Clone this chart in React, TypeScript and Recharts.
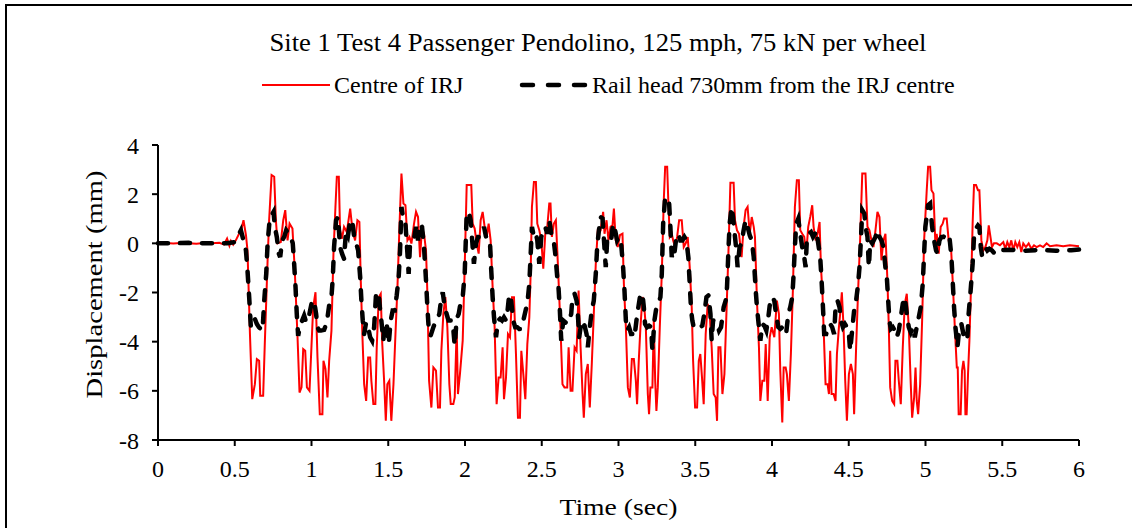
import { LineChart, Line, XAxis, YAxis, Label } from 'recharts';

const chartTitle = 'Site 1 Test 4 Passenger Pendolino, 125 mph, 75 kN per wheel';
const seriesNames = ['Centre of IRJ', 'Rail head 730mm from the IRJ centre'];
const timeTicks = [0, 0.5, 1, 1.5, 2, 2.5, 3, 3.5, 4, 4.5, 5, 5.5, 6];
const dispTicks = [-8, -6, -4, -2, 0, 2, 4];

// [time (sec), displacement (mm)]
const irjCentre: [number, number][] = [
  [0, 0], [0.05, 0.01], [0.1, -0.01], [0.15, 0.01], [0.2, 0], [0.25, -0.02], [0.3, 0.01], [0.35, 0],
  [0.4, 0.02], [0.43, -0.05], [0.45, 0.19], [0.465, -0.1], [0.475, 0.1], [0.49, -0.05], [0.507, 0.12],
  [0.544, 0.6], [0.557, 0.94], [0.573, 0.33], [0.583, -0.28], [0.599, -3.69], [0.614, -6.34], [0.631, -5.73],
  [0.644, -4.71], [0.659, -4.78], [0.666, -6.2], [0.685, -6.2], [0.696, -4.03], [0.714, -0.69], [0.724, 0.94],
  [0.74, 2.78], [0.757, 2.71], [0.768, 0.94], [0.779, 0], [0.8, 0.05], [0.816, 0.94], [0.829, 1.35],
  [0.844, 0.12], [0.857, 0.8], [0.876, 0.6], [0.891, -1.1], [0.909, -3.82], [0.922, -6.07], [0.935, -5.86],
  [0.946, -4.3], [0.959, -4.37], [0.97, -5.86], [0.987, -6.0], [1.0, -4.16], [1.011, -2.6], [1.026, -1.99],
  [1.039, -4.64], [1.054, -6.95], [1.071, -6.95], [1.078, -4.78], [1.091, -5.11], [1.104, -6.27], [1.115, -4.78],
  [1.13, -3.55], [1.143, -0.42], [1.156, 1.48], [1.165, 2.71], [1.178, 2.71], [1.186, 0.53], [1.199, 0.19],
  [1.212, 0.67], [1.23, 0.46], [1.252, 1.41], [1.267, 0.53], [1.284, 0.12], [1.299, 0.94], [1.312, 0.87],
  [1.321, -1.51], [1.332, -3.82], [1.343, -5.73], [1.356, -6.41], [1.369, -4.64], [1.382, -4.64], [1.39, -5.59],
  [1.403, -6.54], [1.416, -6.54], [1.425, -4.23], [1.438, -2.19], [1.451, -2.05], [1.46, -3.96], [1.473, -5.59],
  [1.484, -7.22], [1.494, -5.73], [1.507, -5.59], [1.52, -7.22], [1.534, -5.73], [1.547, -3.69], [1.56, -1.78],
  [1.573, 0.67], [1.586, 2.84], [1.599, 1.62], [1.612, 1.55], [1.625, 0.12], [1.638, 0.26], [1.651, -0.01],
  [1.668, 0.8], [1.681, 1.28], [1.694, 1.07], [1.707, -0.56], [1.72, 0.6], [1.733, 0.39], [1.746, -0.29],
  [1.755, -2.05], [1.766, -5.59], [1.781, -6.68], [1.794, -5.05], [1.811, -5.18], [1.824, -6.68], [1.837, -6.68],
  [1.846, -4.37], [1.859, -2.87], [1.872, -2.19], [1.885, -3.41], [1.898, -5.73], [1.907, -6.54], [1.924, -6.54],
  [1.933, -6.27], [1.946, -3.41], [1.954, -6.13], [1.967, -5.32], [1.985, -3.96], [1.998, -0.97], [2.011, 2.37],
  [2.041, 2.37], [2.05, 0.8], [2.063, 0.6], [2.076, 0], [2.089, -0.42], [2.102, 0.94], [2.115, 1.28],
  [2.128, 0.67], [2.141, 0.26], [2.154, 0.8], [2.167, 0.12], [2.18, -1.78], [2.193, -3.41], [2.206, -6.54],
  [2.219, -5.46], [2.232, -5.46], [2.245, -4.23], [2.254, -6.34], [2.267, -5.46], [2.28, -3.69], [2.293, -3.82],
  [2.306, -2.19], [2.319, -2.19], [2.332, -4.5], [2.345, -7.09], [2.358, -7.09], [2.367, -4.37], [2.38, -5.32],
  [2.393, -6.34], [2.406, -4.1], [2.419, -3.01], [2.427, -1.37], [2.436, 1.48], [2.449, 2.5], [2.462, 2.5],
  [2.471, 0.8], [2.484, 0.53], [2.497, 0.12], [2.51, -1.03], [2.523, 0.39], [2.536, 0.67], [2.549, 1.62],
  [2.557, 1.62], [2.566, 0.26], [2.579, 0.8], [2.592, 0.94], [2.605, -0.83], [2.614, -2.19], [2.622, -3.41],
  [2.635, -5.73], [2.648, -5.86], [2.666, -5.86], [2.675, -4.23], [2.688, -6.0], [2.7, -6.0], [2.714, -4.23],
  [2.727, -4.37], [2.74, -1.92], [2.753, -4.23], [2.766, -6.13], [2.774, -7.09], [2.787, -5.32], [2.8, -4.91],
  [2.813, -6.68], [2.826, -4.91], [2.839, -2.87], [2.852, -0.83], [2.865, 0.53], [2.883, 0.53], [2.9, 1.28],
  [2.909, 0.39], [2.922, 0.94], [2.935, 0.12], [2.948, 0.67], [2.961, 0.73], [2.97, 1.41], [2.982, 0.12],
  [2.995, -0.15], [3.009, 0.33], [3.026, 0.39], [3.035, -1.65], [3.048, -3.41], [3.061, -5.86], [3.074, -6.27],
  [3.087, -4.71], [3.1, -4.71], [3.113, -5.59], [3.121, -6.54], [3.132, -4.78], [3.143, -3.41], [3.156, -2.19],
  [3.165, -2.33], [3.178, -3.41], [3.191, -6.13], [3.199, -6.95], [3.208, -5.86], [3.221, -5.86], [3.23, -3.14],
  [3.239, -5.59], [3.247, -6.82], [3.256, -5.86], [3.269, -3.41], [3.282, -1.24], [3.295, 1.75], [3.304, 3.12],
  [3.317, 3.12], [3.325, 1.62], [3.334, 0.26], [3.347, 0.39], [3.356, 0.12], [3.369, -0.15], [3.382, 0.26],
  [3.395, 0.94], [3.412, 0.94], [3.425, -0.15], [3.438, 0], [3.451, 0.26], [3.464, -0.97], [3.477, -2.6],
  [3.486, -4.78], [3.499, -6.68], [3.512, -6.68], [3.523, -4.78], [3.533, -4.5], [3.544, -5.46], [3.555, -6.54],
  [3.568, -3.69], [3.581, -2.46], [3.594, -2.87], [3.607, -4.23], [3.62, -6.13], [3.633, -6.27], [3.642, -7.22],
  [3.651, -4.23], [3.664, -4.23], [3.677, -6.13], [3.69, -5.32], [3.703, -2.87], [3.716, -0.42], [3.729, 2.46],
  [3.75, 2.46], [3.759, 0.94], [3.772, 0.53], [3.785, 0.39], [3.802, -0.56], [3.815, 0.67], [3.828, 1.35],
  [3.841, 1.48], [3.855, 0.39], [3.868, 1.07], [3.881, 0.67], [3.889, 0.26], [3.902, -2.33], [3.915, -4.23],
  [3.924, -6.41], [3.937, -5.59], [3.95, -5.59], [3.959, -4.1], [3.972, -6.41], [3.985, -3.82], [3.998, -3.41],
  [4.015, -3.82], [4.032, -2.33], [4.045, -2.87], [4.054, -5.18], [4.067, -7.29], [4.076, -5.05], [4.089, -5.05],
  [4.097, -5.32], [4.11, -6.41], [4.123, -4.5], [4.136, -1.92], [4.149, 1.48], [4.162, 2.57], [4.175, 2.57],
  [4.184, 0.53], [4.197, 0.39], [4.21, 0.26], [4.223, -0.42], [4.236, 0.67], [4.249, 1.07], [4.262, 1.55],
  [4.271, 0.67], [4.284, 0.12], [4.297, 0.39], [4.31, 0.87], [4.319, -0.97], [4.329, -2.05], [4.336, -3.41],
  [4.349, -5.73], [4.362, -5.73], [4.371, -6.13], [4.379, -4.37], [4.388, -6.13], [4.401, -6.13], [4.414, -6.41],
  [4.423, -4.5], [4.436, -3.41], [4.444, -2.87], [4.455, -1.99], [4.466, -3.41], [4.477, -5.59], [4.488, -7.22],
  [4.501, -5.32], [4.514, -4.91], [4.527, -5.32], [4.535, -6.95], [4.548, -4.23], [4.561, -1.92], [4.574, 0.12],
  [4.588, 2.84], [4.609, 2.84], [4.622, 0.67], [4.635, 0.53], [4.648, 0.12], [4.661, -0.15], [4.674, 0.53],
  [4.687, 1.28], [4.7, 1.07], [4.713, -0.69], [4.726, 0.12], [4.739, 0.39], [4.752, -1.51], [4.761, -3.41],
  [4.77, -5.86], [4.783, -6.41], [4.796, -6.54], [4.804, -4.78], [4.817, -4.78], [4.826, -5.59], [4.839, -6.54],
  [4.852, -4.23], [4.865, -2.46], [4.878, -2.05], [4.891, -3.41], [4.904, -5.73], [4.913, -7.09], [4.926, -6.27],
  [4.935, -5.05], [4.943, -6.41], [4.952, -6.95], [4.965, -5.73], [4.978, -3.14], [4.991, 0.12], [5.008, 2.16],
  [5.017, 3.12], [5.03, 3.12], [5.039, 2.16], [5.052, 2.03], [5.065, -0.15], [5.073, 0.39], [5.086, -0.42],
  [5.099, 0.67], [5.112, 0.8], [5.121, 1.01], [5.138, 1.01], [5.151, 0.12], [5.164, 0.12], [5.177, -1.51],
  [5.191, -3.41], [5.204, -5.05], [5.21, -5.05], [5.216, -6.95], [5.229, -6.95], [5.238, -5.18], [5.247, -4.78],
  [5.255, -5.18], [5.26, -6.95], [5.268, -6.95], [5.277, -5.32], [5.286, -3.96], [5.299, -1.24], [5.307, 0.8],
  [5.316, 2.37], [5.329, 2.37], [5.342, 2.16], [5.351, 2.16], [5.364, 0.12], [5.377, -0.29], [5.39, -0.15],
  [5.403, 0.12], [5.412, 0.73], [5.42, 0.39], [5.433, -0.15], [5.446, 0], [5.464, 0], [5.485, -0.08],
  [5.507, 0.05], [5.52, -0.22], [5.533, 0.05], [5.546, -0.15], [5.559, 0.12], [5.572, -0.29], [5.585, 0.05],
  [5.598, -0.15], [5.611, 0.05], [5.624, -0.35], [5.637, 0], [5.654, -0.15], [5.672, 0], [5.689, -0.22],
  [5.707, -0.08], [5.724, -0.15], [5.746, -0.08], [5.767, -0.15], [5.789, 0], [5.811, -0.12], [5.854, -0.08],
  [5.897, -0.12], [5.941, -0.08], [6.0, -0.12],
];

const railHead730: [number, number][] = [
  [0, 0], [0.1, 0], [0.2, 0.02], [0.3, 0], [0.4, 0.01], [0.45, 0], [0.497, 0.05], [0.518, 0.26], [0.54, 0.53],
  [0.557, 0.12], [0.573, -0.29], [0.583, -1.1], [0.594, -2.19], [0.605, -3.41], [0.616, -3.14], [0.631, -3.07],
  [0.644, -3.28], [0.657, -3.41], [0.681, -3.55], [0.692, -2.33], [0.705, -1.24], [0.714, 0], [0.727, 0.94],
  [0.74, 1.14], [0.753, 1.28], [0.761, 0.67], [0.774, 0.26], [0.787, -0.42], [0.796, -0.56], [0.809, 0.12],
  [0.822, 0.26], [0.835, 0.53], [0.852, 0.39], [0.865, 0.26], [0.878, 0], [0.887, -0.83], [0.896, -1.78],
  [0.904, -2.87], [0.913, -3.76], [0.926, -3.35], [0.939, -3.14], [0.952, -2.94], [0.965, -3.21], [0.978, -3.14],
  [0.991, -2.73], [1.004, -2.33], [1.017, -2.33], [1.03, -2.87], [1.039, -3.41], [1.05, -3.55], [1.061, -3.55],
  [1.082, -3.52], [1.1, -3.21], [1.115, -2.53], [1.13, -2.19], [1.139, -1.37], [1.147, -0.15], [1.16, 0.94],
  [1.173, 1.07], [1.186, -0.15], [1.199, -0.42], [1.212, -0.63], [1.225, 0.53], [1.238, 0.33], [1.252, 0.94],
  [1.265, 0.94], [1.278, 0.26], [1.291, 0], [1.304, -0.29], [1.317, -1.37], [1.325, -2.33], [1.334, -3.14],
  [1.343, -3.69], [1.356, -3.21], [1.369, -3.41], [1.382, -3.82], [1.395, -3.96], [1.408, -3.41], [1.421, -1.99],
  [1.438, -2.05], [1.447, -2.73], [1.455, -3.14], [1.468, -3.96], [1.477, -3.21], [1.49, -3.28], [1.503, -4.1],
  [1.516, -3.14], [1.529, -2.73], [1.542, -2.73], [1.555, -2.12], [1.568, -1.37], [1.577, -0.29], [1.586, 1.48],
  [1.599, 0.94], [1.612, 0.8], [1.625, -0.42], [1.633, -1.24], [1.642, 0], [1.655, 0.12], [1.668, 0.19],
  [1.681, 0.67], [1.694, 0.12], [1.707, 0.8], [1.72, 0.67], [1.733, -0.15], [1.746, -1.51], [1.755, -2.6],
  [1.763, -3.41], [1.776, -3.76], [1.794, -3.41], [1.807, -3.21], [1.82, -3.07], [1.833, -2.87], [1.846, -2.19],
  [1.855, -1.99], [1.868, -2.6], [1.88, -2.87], [1.893, -3.14], [1.907, -3.14], [1.92, -3.21], [1.933, -4.16],
  [1.946, -3.07], [1.959, -2.87], [1.972, -2.39], [1.985, -2.19], [1.998, -1.24], [2.011, 1.21], [2.024, 1.28],
  [2.037, 0.94], [2.05, -0.15], [2.058, -0.83], [2.072, 0], [2.085, 0.26], [2.098, 0.26], [2.111, 0.39],
  [2.124, 0.67], [2.137, 0.26], [2.15, 0.26], [2.163, 0], [2.171, -1.1], [2.18, -2.19], [2.189, -3.01],
  [2.202, -3.82], [2.215, -3.14], [2.228, -3.07], [2.241, -3.14], [2.254, -3.01], [2.267, -3.14], [2.275, -2.87],
  [2.288, -2.08], [2.301, -2.33], [2.314, -3.14], [2.327, -3.41], [2.34, -3.41], [2.353, -3.48], [2.366, -3.48],
  [2.38, -3.14], [2.397, -2.67], [2.406, -2.46], [2.419, -1.65], [2.427, -0.56], [2.436, 0.67], [2.449, 0.26],
  [2.462, 0.39], [2.471, 0.12], [2.484, -0.83], [2.497, 0.26], [2.51, 0.53], [2.523, 0.67], [2.536, 0.39],
  [2.549, 0.94], [2.562, 0.39], [2.575, 0.26], [2.588, -0.42], [2.601, -1.37], [2.609, -1.78], [2.618, -2.73],
  [2.627, -3.96], [2.64, -3.14], [2.653, -3.21], [2.666, -3.28], [2.679, -3.14], [2.692, -2.87], [2.7, -2.19],
  [2.714, -2.05], [2.727, -2.33], [2.735, -2.87], [2.744, -3.82], [2.753, -3.41], [2.766, -3.14], [2.779, -3.35],
  [2.792, -3.69], [2.8, -4.23], [2.813, -3.41], [2.826, -2.73], [2.839, -2.33], [2.852, -1.24], [2.861, -0.15],
  [2.87, 0.39], [2.883, 1.07], [2.896, 1.01], [2.904, 0.26], [2.917, -0.97], [2.926, 0.12], [2.939, 0.26],
  [2.952, 0.12], [2.965, 0.8], [2.978, 0.53], [2.991, 0.12], [3.004, 0.26], [3.017, 0], [3.03, -0.97],
  [3.039, -1.92], [3.048, -3.14], [3.056, -3.55], [3.069, -3.41], [3.082, -3.69], [3.095, -3.69], [3.104, -3.82],
  [3.117, -3.14], [3.126, -2.73], [3.143, -2.05], [3.156, -2.05], [3.165, -2.6], [3.173, -3.28], [3.186, -3.41],
  [3.199, -3.35], [3.212, -3.41], [3.221, -4.37], [3.234, -3.14], [3.247, -2.6], [3.26, -2.46], [3.273, -2.19],
  [3.282, -1.24], [3.291, 0.8], [3.304, 1.89], [3.317, 1.75], [3.33, 1.62], [3.338, 0.67], [3.347, -0.56],
  [3.356, -0.29], [3.364, -0.42], [3.377, 0.26], [3.39, 0.39], [3.403, 0.12], [3.416, 0.12], [3.429, 0.26],
  [3.442, 0.12], [3.455, -0.56], [3.464, -1.65], [3.473, -2.73], [3.481, -3.14], [3.49, -3.41], [3.503, -3.48],
  [3.52, -3.48], [3.533, -3.41], [3.546, -3.35], [3.559, -2.87], [3.573, -2.19], [3.586, -2.12], [3.599, -2.87],
  [3.607, -3.96], [3.616, -3.14], [3.629, -3.14], [3.642, -3.28], [3.655, -3.55], [3.668, -3.41], [3.685, -2.6],
  [3.698, -2.33], [3.707, -1.78], [3.716, -0.29], [3.724, 0.8], [3.737, 1.48], [3.746, 1.07], [3.759, 0.26],
  [3.768, -0.29], [3.776, -0.97], [3.789, -0.15], [3.802, 0], [3.815, 0.53], [3.828, 0.94], [3.841, 0.67],
  [3.855, 0.33], [3.868, 0.12], [3.881, -0.56], [3.894, -1.92], [3.902, -2.6], [3.915, -3.41], [3.924, -3.96],
  [3.937, -3.28], [3.95, -3.35], [3.963, -3.55], [3.976, -3.01], [3.989, -2.33], [4.002, -2.19], [4.015, -2.33],
  [4.028, -2.94], [4.041, -3.41], [4.054, -3.48], [4.067, -3.41], [4.08, -3.69], [4.093, -3.62], [4.106, -2.87],
  [4.119, -2.6], [4.132, -2.19], [4.141, -1.24], [4.149, -0.15], [4.158, 0.8], [4.171, 1.0], [4.184, 0.39],
  [4.197, -0.15], [4.21, -0.56], [4.219, -0.97], [4.227, 0.12], [4.24, 0.39], [4.254, 0.46], [4.267, 0.26],
  [4.28, 0.39], [4.288, 0.53], [4.301, 0], [4.314, -0.56], [4.323, -1.51], [4.332, -2.6], [4.34, -3.69],
  [4.353, -3.69], [4.366, -3.41], [4.379, -3.28], [4.392, -3.41], [4.405, -3.69], [4.414, -2.6], [4.427, -2.33],
  [4.44, -2.6], [4.449, -3.14], [4.462, -3.41], [4.475, -3.28], [4.488, -3.41], [4.501, -3.69], [4.509, -4.37],
  [4.522, -3.55], [4.535, -2.73], [4.548, -2.33], [4.561, -1.65], [4.57, -0.97], [4.579, 0.12], [4.588, 1.35],
  [4.601, 1.21], [4.614, 0.53], [4.622, 0.26], [4.631, -0.97], [4.64, 0.12], [4.653, 0], [4.674, 0.26],
  [4.687, 0.53], [4.7, 0.26], [4.713, 0.12], [4.726, -0.15], [4.739, -0.97], [4.748, -1.37], [4.757, -2.33],
  [4.765, -3.14], [4.774, -3.48], [4.787, -3.41], [4.8, -3.55], [4.813, -3.82], [4.826, -3.55], [4.839, -3.01],
  [4.852, -2.46], [4.865, -2.19], [4.878, -2.87], [4.891, -3.41], [4.904, -3.62], [4.917, -3.41], [4.93, -3.82],
  [4.943, -3.41], [4.956, -3.01], [4.969, -2.6], [4.982, -1.65], [4.991, -0.42], [4.999, 0.67], [5.017, 1.55],
  [5.03, 1.62], [5.043, 0.67], [5.056, 0.12], [5.069, -0.29], [5.078, -0.42], [5.091, 0.12], [5.104, 0.26],
  [5.117, 0.26], [5.13, 0.39], [5.143, 0.39], [5.156, 0.26], [5.169, -0.56], [5.177, -1.51], [5.186, -2.6],
  [5.195, -3.41], [5.204, -3.96], [5.208, -4.23], [5.221, -3.41], [5.234, -3.28], [5.247, -3.69], [5.26, -3.96],
  [5.273, -3.82], [5.281, -2.87], [5.294, -1.92], [5.307, -0.83], [5.316, 0.26], [5.329, 0.6], [5.342, 0.73],
  [5.351, 0.67], [5.36, -0.15], [5.368, -0.49], [5.377, -0.29], [5.39, -0.15], [5.403, -0.29], [5.416, -0.22],
  [5.433, -0.29], [5.451, -0.42], [5.464, -0.29], [5.55, -0.26], [5.65, -0.3], [5.75, -0.27], [5.85, -0.3],
  [5.95, -0.28], [6.0, -0.25],
];

const FONT = '"Liberation Serif", "Times New Roman", serif';

const toPoints = (rows: [number, number][]) => rows.map(([t, v]) => ({ t, v }));

export default function App() {
  const centreData = toPoints(irjCentre);
  const railData = toPoints(railHead730);

  return (
    <div style={{ position: 'absolute', left: 0, top: 0, width: 1132, height: 528, overflow: 'hidden', background: '#fff' }}>
      {/* outer frame: only top and left edges show in the crop */}
      <div style={{ position: 'absolute', left: 5, top: 4, width: 1200, height: 600, borderTop: '2px solid #000', borderLeft: '2px solid #000' }} />

      <svg width={1132} height={130} style={{ position: 'absolute', left: 0, top: 0 }}>
        <text x={598} y={51} textAnchor="middle" fontFamily={FONT} fontSize={25}
          textLength={657} lengthAdjust="spacingAndGlyphs">{chartTitle}</text>
        <line x1={262} y1={85} x2={330} y2={85} stroke="#ff0000" strokeWidth={2} />
        <text x={334} y={93} fontFamily={FONT} fontSize={24}>{seriesNames[0]}</text>
        <line x1={522} y1={85} x2={588} y2={85} stroke="#000" strokeWidth={4.5}
          strokeDasharray="11 15" strokeLinecap="round" />
        <text x={592} y={93} fontFamily={FONT} fontSize={24}>{seriesNames[1]}</text>
      </svg>

      <div style={{ position: 'absolute', left: 0, top: 0 }}>
        <LineChart width={1132} height={528} margin={{ top: 145, right: 53, bottom: 0, left: 0 }}>
          <XAxis dataKey="t" type="number" domain={[0, 6]} ticks={timeTicks} allowDuplicatedCategory={false}
            height={88} tickSize={6} tickMargin={14}
            axisLine={{ stroke: '#000', strokeWidth: 2 }} tickLine={{ stroke: '#000', strokeWidth: 2 }}
            tick={{ fill: '#000', fontSize: 24, fontFamily: FONT }}>
            <Label content={({ viewBox }: any) => (
              <text x={viewBox.x + viewBox.width / 2} y={viewBox.y + 75} textAnchor="middle"
                fontFamily={FONT} fontSize={24} textLength={118} lengthAdjust="spacingAndGlyphs">Time (sec)</text>
            )} />
          </XAxis>
          <YAxis type="number" domain={[-8, 4]} ticks={dispTicks} width={158} tickSize={6} tickMargin={13}
            axisLine={{ stroke: '#000', strokeWidth: 2 }} tickLine={{ stroke: '#000', strokeWidth: 2 }}
            tick={{ fill: '#000', fontSize: 24, fontFamily: FONT }}>
            <Label content={({ viewBox }: any) => {
              const cx = 102;
              const cy = viewBox.y + viewBox.height / 2 - 8;
              return (
                <text x={cx} y={cy} transform={`rotate(-90 ${cx} ${cy})`} textAnchor="middle"
                  fontFamily={FONT} fontSize={24} textLength={228} lengthAdjust="spacingAndGlyphs">
                  Displacement (mm)
                </text>
              );
            }} />
          </YAxis>
          <Line data={centreData} dataKey="v" type="linear" stroke="#ff0000" strokeWidth={2}
            dot={false} activeDot={false} isAnimationActive={false} name={seriesNames[0]} />
          <Line data={railData} dataKey="v" type="linear" stroke="#000" strokeWidth={4.5}
            strokeDasharray="10 12" strokeLinecap="round" dot={false} activeDot={false}
            isAnimationActive={false} name={seriesNames[1]} />
        </LineChart>
      </div>
    </div>
  );
}
